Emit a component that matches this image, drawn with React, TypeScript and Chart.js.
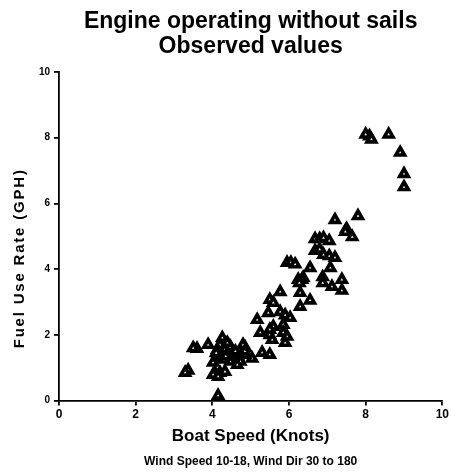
import { useEffect, useRef } from 'react';
import { Chart, registerables } from 'chart.js';

Chart.register(...registerables);

const boatSpeed = [
  8.1, 8.0, 8.15, 8.6, 8.9, 9.0, 9.0,
  7.2, 7.8, 7.5, 7.65, 7.47,
  6.68, 6.8, 6.9, 7.05,
  6.68, 6.8, 6.9, 7.05, 7.2,
  6.55, 7.08,
  6.37, 6.88, 6.88, 7.12, 7.38, 7.38,
  5.95, 6.05, 6.16,
  6.34, 6.24, 6.27, 5.77, 6.29, 6.55, 6.29,
  5.5, 5.59, 5.46, 5.77, 5.9, 6.03,
  5.17, 5.59, 5.85, 5.25, 5.5, 5.85, 5.95, 5.5,
  5.9, 5.56,
  5.3, 5.5, 5.04, 4.86, 4.86, 4.67, 4.73, 4.54, 4.47, 4.39,
  4.26, 4.2, 4.13, 4.28, 4.13, 4.02, 4.47, 4.65, 3.89, 3.6, 3.5,
  4.07, 4.2, 4.33, 4.02, 4.15, 3.37, 3.29, 4.15,
  4.33, 4.54, 4.2, 4.3, 4.1, 4.35, 4.6, 4.8, 4.85
];

const fuelRate = [
  8.05, 8.1, 7.95, 8.1, 7.55, 6.9, 6.5,
  5.5, 5.62, 5.23, 4.98, 5.14,
  4.92, 4.92, 4.95, 4.86,
  4.56, 4.6, 4.44, 4.4, 4.35,
  4.04, 4.04,
  3.74, 3.76, 3.58, 3.47, 3.68, 3.35,
  4.2, 4.2, 4.15,
  3.68, 3.68, 3.58, 3.31, 3.28, 3.05, 2.86,
  3.07, 2.98, 2.67, 2.7, 2.6, 2.52,
  2.46, 2.25, 2.31, 2.07, 2.0, 2.07, 1.95, 2.16,
  1.76, 1.85,
  1.46, 1.4, 1.28, 1.61, 1.4, 1.34, 1.19, 1.25, 1.64, 1.76,
  1.91, 1.7, 1.55, 1.46, 1.31, 1.16, 1.19, 1.09, 1.7, 1.58, 1.6,
  0.85, 0.85, 0.88, 0.79, 0.73, 0.92, 0.85, 0.15,
  1.55, 1.46, 1.4, 1.25, 1.45, 1.35, 1.5, 1.7, 1.5
];

const xTicks = [0, 2, 4, 6, 8, 10];
const yTicks = [0, 2, 4, 6, 8, 10];
const titleLines = ['Engine operating without sails', 'Observed values'];
const xTitle = 'Boat Speed (Knots)';
const yTitle = 'Fuel Use Rate (GPH)';
const footnote = 'Wind Speed 10-18, Wind Dir 30 to 180';

const FONT = '"Liberation Sans", Arial, sans-serif';

const yTitlePlugin = {
  id: 'yTitleText',
  afterDraw(chart: any) {
    const { ctx, chartArea } = chart;
    ctx.save();
    ctx.fillStyle = '#000';
    ctx.font = `bold 15px ${FONT}`;
    try { (ctx as any).letterSpacing = '1.8px'; } catch (e) { /* ignore */ }
    ctx.textAlign = 'center';
    ctx.textBaseline = 'middle';
    ctx.translate(20, (chartArea.top + chartArea.bottom) / 2 + 22);
    ctx.rotate(-Math.PI / 2);
    ctx.fillText(yTitle, 0, 0);
    ctx.restore();
  },
};

export default function App() {
  const ref = useRef<HTMLCanvasElement | null>(null);

  useEffect(() => {
    if (!ref.current) return;
    const points = boatSpeed.map((x, i) => ({ x, y: fuelRate[i] }));
    const chart = new Chart(ref.current, {
      type: 'scatter',
      data: {
        datasets: [
          {
            data: points,
            pointStyle: 'triangle',
            pointRadius: 5,
            pointBorderWidth: 3.6,
            pointBackgroundColor: '#fff',
            pointBorderColor: '#000',
            pointHoverRadius: 5,
          },
        ],
      },
      options: {
        responsive: false,
        animation: false,
        devicePixelRatio: 1,
        layout: { padding: { left: 0, right: 8, top: 0, bottom: 0 } },
        plugins: {
          legend: { display: false },
          tooltip: { enabled: false },
          title: {
            display: true,
            fullSize: false,
            text: titleLines,
            color: '#000',
            font: { family: FONT, size: 23, weight: 'bold', lineHeight: 1.087 },
            padding: { top: 9, bottom: 13 },
          },
          subtitle: {
            display: true,
            fullSize: false,
            position: 'bottom',
            text: footnote,
            color: '#000',
            font: { family: FONT, size: 12, weight: 'bold', lineHeight: 1.2 },
            padding: { top: 1, bottom: 6 },
          },
        },
        scales: {
          x: {
            type: 'linear',
            min: 0,
            max: 10,
            afterFit: (s: any) => { s.height = 53; },
            afterBuildTicks: (s: any) => { s.ticks = xTicks.map((v) => ({ value: v })); },
            ticks: {
              color: '#000',
              font: { family: FONT, size: 12, weight: 'bold' },
              padding: 2,
              maxRotation: 0,
            },
            grid: { drawOnChartArea: false, tickLength: 5, color: '#000', lineWidth: 1.8 },
            border: { color: '#000', width: 1.8 },
            title: {
              display: true,
              text: xTitle,
              color: '#000',
              font: { family: FONT, size: 17, weight: 'bold', lineHeight: 1.2 },
              padding: { top: 0, bottom: 6.8 },
            },
          },
          y: {
            type: 'linear',
            min: 0,
            max: 10,
            afterFit: (s: any) => { s.width = 59; },
            afterBuildTicks: (s: any) => { s.ticks = yTicks.map((v) => ({ value: v })); },
            ticks: {
              color: '#000',
              font: { family: FONT, size: 10, weight: 'bold' },
              padding: 4,
            },
            grid: { drawOnChartArea: false, tickLength: 5, color: '#000', lineWidth: 1.8 },
            border: { color: '#000', width: 1.8 },
          },
        },
      },
      plugins: [yTitlePlugin],
    });
    return () => chart.destroy();
  }, []);

  return (
    <div style={{ position: 'absolute', left: 0, top: 0, width: 451, height: 475, background: '#fff' }}>
      <canvas ref={ref} width={451} height={475} />
    </div>
  );
}
